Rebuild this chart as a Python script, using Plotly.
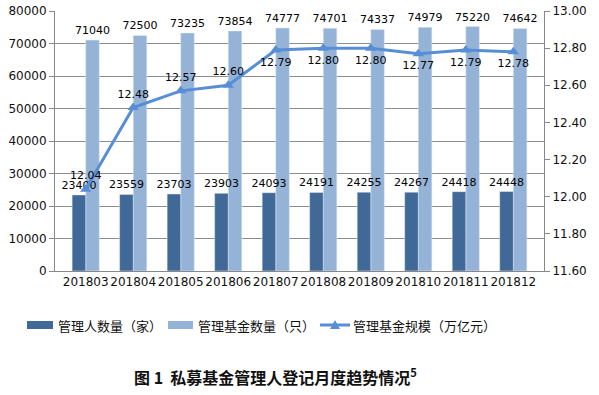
import plotly.graph_objects as go

months = ["201803", "201804", "201805", "201806", "201807",
          "201808", "201809", "201810", "201811", "201812"]
managers = [23400, 23559, 23703, 23903, 24093, 24191, 24255, 24267, 24418, 24448]
funds = [71040, 72500, 73235, 73854, 74777, 74701, 74337, 74979, 75220, 74642]
scale = [12.04, 12.48, 12.57, 12.60, 12.79, 12.80, 12.80, 12.77, 12.79, 12.78]
scale_text_pos = ["top center"] * 4 + ["bottom center"] * 6

legend_names = ["管理人数量（家）", "管理基金数量（只）", "管理基金规模（万亿元）"]
title_text = "图 1  私募基金管理人登记月度趋势情况<sup>5</sup>"

DARK = "#416998"
LIGHT = "#95B3D7"
LINE = "#578ED6"
NUM_FONT = "DejaVu Sans"
CJK = "Noto Sans CJK SC"

W, H = 599, 395
L, R, T, B = 55, 55, 11, 124
PW, PH = W - L - R, H - T - B
BW = 0.286

fig = go.Figure()
# light bars (base subplot)
fig.add_trace(go.Bar(x=months, y=funds, name=legend_names[1], marker_color=LIGHT,
                     width=BW, offset=0,
                     text=funds, textposition="outside", cliponaxis=False,
                     constraintext="none",
                     textfont=dict(family=NUM_FONT, size=11, color="#000")))
# dark bars on an overlay axis so their labels sit above the light bars
fig.add_trace(go.Bar(x=months, y=managers, name=legend_names[0], marker_color=DARK,
                     yaxis="y2", width=BW, offset=-BW,
                     text=managers, textposition="outside", cliponaxis=False,
                     constraintext="none",
                     textfont=dict(family=NUM_FONT, size=11, color="#000")))
fig.add_trace(go.Scatter(x=months, y=scale, name=legend_names[2], yaxis="y3",
                         mode="lines+markers+text",
                         line=dict(color=LINE, width=3),
                         marker=dict(symbol="triangle-up", size=10, color=LINE),
                         text=[f"{v:.2f}" for v in scale], textposition=scale_text_pos,
                         cliponaxis=False,
                         textfont=dict(family=NUM_FONT, size=11, color="#000")))

fig.update_layout(
    width=W, height=H,
    margin=dict(l=L, r=R, t=T, b=B),
    paper_bgcolor="white", plot_bgcolor="white",
    barmode="overlay",
    showlegend=False,
    font=dict(family=NUM_FONT, size=12, color="#111"),
    xaxis=dict(type="category", showline=True, linecolor="#888", linewidth=1,
               ticks="", tickangle=0, automargin=False,
               tickfont=dict(family=NUM_FONT, size=12, color="#111")),
    yaxis=dict(range=[0, 80000], dtick=10000, showgrid=True, gridcolor="#8c8c8c",
               gridwidth=1, showline=True, linecolor="#888", ticks="outside",
               ticklen=5, tickcolor="#888", tickformat="d", zeroline=False,
               automargin=False,
               tickfont=dict(family=NUM_FONT, size=12, color="#111")),
    yaxis2=dict(range=[0, 80000], overlaying="y", visible=False, automargin=False),
    yaxis3=dict(range=[11.6, 13.0], dtick=0.2, overlaying="y", side="right",
                showgrid=False, showline=True, linecolor="#888", ticks="outside",
                ticklen=5, tickcolor="#888", tickformat=".2f", zeroline=False,
                automargin=False,
                tickfont=dict(family=NUM_FONT, size=12, color="#111")),
)

def px(x):
    return (x - L) / PW

def py(y):
    return (H - B - y) / PH

# custom legend below the plot
fig.add_shape(type="rect", xref="paper", yref="paper",
              x0=px(27), x1=px(53), y0=py(329), y1=py(321),
              fillcolor=DARK, line_width=0)
fig.add_shape(type="rect", xref="paper", yref="paper",
              x0=px(168), x1=px(193), y0=py(329), y1=py(321),
              fillcolor=LIGHT, line_width=0)
fig.add_shape(type="line", xref="paper", yref="paper",
              x0=px(320), x1=px(350), y0=py(325), y1=py(325),
              line=dict(color=LINE, width=3))
fig.add_shape(type="path", xref="paper", yref="paper",
              path=f"M {px(330)} {py(329)} L {px(340)} {py(329)} L {px(335)} {py(320)} Z",
              fillcolor=LINE, line_width=0)
for x0, name in [(56, legend_names[0]), (196, legend_names[1]), (351, legend_names[2])]:
    fig.add_annotation(xref="paper", yref="paper", x=px(x0), y=py(325),
                       text=name, showarrow=False, xanchor="left", yanchor="middle",
                       font=dict(family=CJK, size=13, color="#111"))

fig.add_annotation(xref="paper", yref="paper", x=px(275), y=py(376),
                   text=f"<b>{title_text}</b>", showarrow=False,
                   xanchor="center", yanchor="middle",
                   font=dict(family=CJK, size=16, color="#111"))

fig.write_html("out.html", config={"displayModeBar": False},
               post_script="document.body.style.margin='0';")
